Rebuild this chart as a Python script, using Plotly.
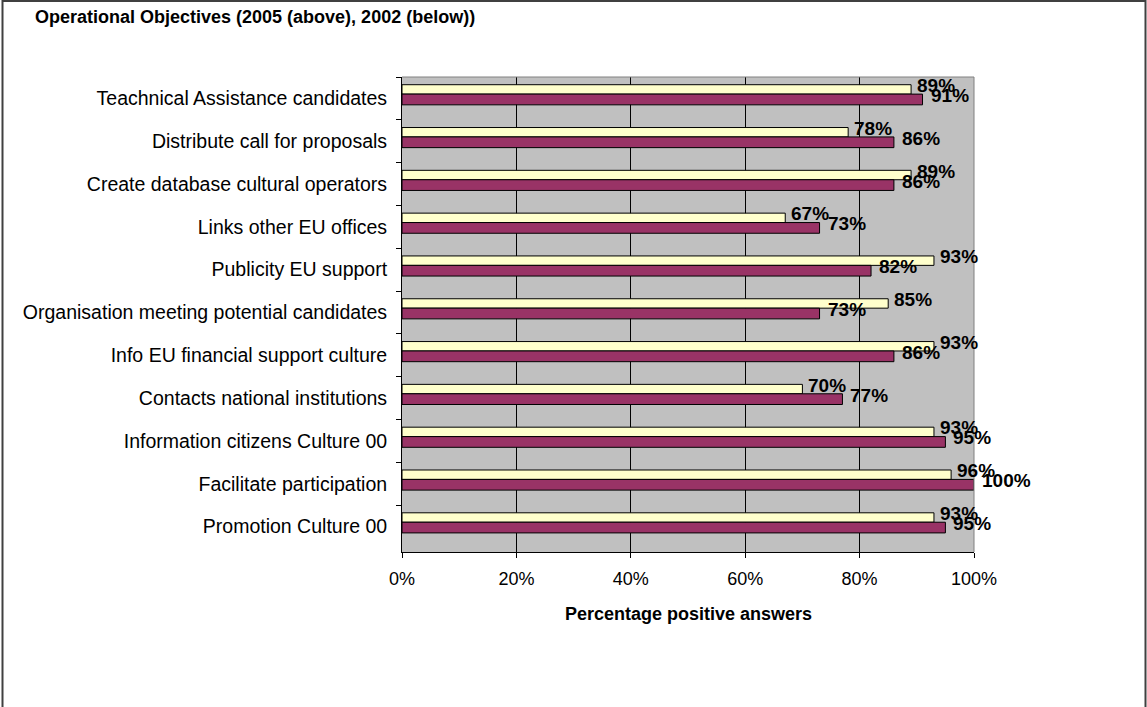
import plotly.graph_objects as go

# Survey results: share of positive answers per operational objective
categories = [
    "Teachnical Assistance candidates",
    "Distribute call for proposals",
    "Create database cultural operators",
    "Links other EU offices",
    "Publicity EU support",
    "Organisation meeting potential candidates",
    "Info EU financial support culture",
    "Contacts national institutions",
    "Information citizens Culture 00",
    "Facilitate participation",
    "Promotion Culture 00",
]
values_2005 = [89, 78, 89, 67, 93, 85, 93, 70, 93, 96, 93]
values_2002 = [91, 86, 86, 73, 82, 73, 86, 77, 95, 100, 95]
x_ticks = [0, 20, 40, 60, 80, 100]
x_tick_labels = [f"{v}%" for v in x_ticks]

FONT = "Liberation Sans, Arial, sans-serif"
W, H = 1147, 707
L, R, T, B = 402, 974, 77, 552  # plot area in pixels


def px_x(p):
    return (p - L) / (R - L)


def px_y(p):
    return (B - p) / (B - T)


fig = go.Figure()

fig.add_trace(go.Bar(
    name="2005", y=categories, x=values_2005, orientation="h",
    marker=dict(color="#FFFFCC", line=dict(color="black", width=1)),
    width=0.22, offset=-0.32, hoverinfo="x+y",
))
fig.add_trace(go.Bar(
    name="2002", y=categories, x=values_2002, orientation="h",
    marker=dict(color="#993366", line=dict(color="black", width=1)),
    width=0.25, offset=-0.10, hoverinfo="x+y",
))

label_font = dict(family=FONT, size=19, color="black", weight="bold")
annotations = []
for cat, a, b in zip(categories, values_2005, values_2002):
    annotations.append(dict(
        x=a, y=cat, xref="x", yref="y", text=f"{a}%", showarrow=False,
        xanchor="left", yanchor="middle", xshift=4, yshift=13,
        font=label_font,
    ))
    annotations.append(dict(
        x=b, y=cat, xref="x", yref="y", text=f"{b}%", showarrow=False,
        xanchor="left", yanchor="middle", xshift=6, yshift=3,
        font=label_font,
    ))

# axis title
annotations.append(dict(
    x=0.5, y=px_y(614), xref="paper", yref="paper",
    text="Percentage positive answers", showarrow=False,
    xanchor="center", yanchor="middle",
    font=dict(family=FONT, size=18, color="black", weight="bold"),
))

shapes = [
    # chart frame
    dict(type="rect", xref="paper", yref="paper",
         x0=px_x(2.5), x1=px_x(1145.5), y0=px_y(725), y1=px_y(1),
         line=dict(color="#404040", width=2), fillcolor="rgba(0,0,0,0)",
         layer="above"),
    # plot area border (top and right)
    dict(type="line", xref="paper", yref="paper", x0=0, x1=1, y0=1, y1=1,
         line=dict(color="#808080", width=1), layer="above"),
    dict(type="line", xref="paper", yref="paper", x0=1, x1=1, y0=0, y1=1,
         line=dict(color="#808080", width=1), layer="above"),
]

fig.update_layout(
    template="none",
    width=W, height=H,
    autosize=False,
    margin=dict(l=L, r=W - R, t=T, b=H - B, pad=0),
    paper_bgcolor="white",
    plot_bgcolor="#C0C0C0",
    barmode="overlay",
    showlegend=False,
    title=dict(
        text="Operational Objectives (2005 (above), 2002 (below))",
        xref="container", yref="container",
        x=35 / W, y=1 - 17 / H, xanchor="left", yanchor="middle",
        font=dict(family=FONT, size=18, color="black", weight="bold"),
    ),
    xaxis=dict(
        range=[0, 100], tickmode="array", tickvals=x_ticks,
        ticktext=x_tick_labels,
        showgrid=True, gridcolor="black", gridwidth=1, zeroline=False,
        showline=True, linecolor="black", linewidth=1,
        ticks="outside", ticklen=5, tickcolor="black", tickwidth=1,
        tickfont=dict(family=FONT, size=18, color="black"),
        ticklabelstandoff=5,
        fixedrange=True,
    ),
    yaxis=dict(
        type="category", categoryorder="array", categoryarray=categories,
        autorange="reversed",
        showgrid=False, zeroline=False,
        showline=True, linecolor="black", linewidth=1,
        ticks="outside", tickson="boundaries", ticklen=5,
        tickcolor="black", tickwidth=1,
        tickfont=dict(family=FONT, size=19.5, color="black"),
        ticklabelstandoff=10,
        fixedrange=True,
    ),
    annotations=annotations,
    shapes=shapes,
)

fig.write_html("out.html")
